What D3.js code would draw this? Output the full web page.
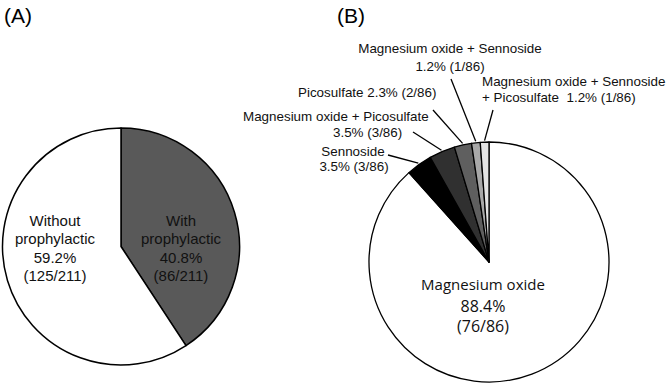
<!DOCTYPE html>
<html lang="en">
<head>
<script type="text/javascript" src="https://d3js.org/d3.v7.min.js"></script>
<style>
    body { margin: 0; background: #fff; }
    svg { display: block; }
</style>
</head>
<body>
<div id="container"></div>
<script>
    // (A) prophylaxis
    const groupsA = ["With prophylactic", "Without prophylactic"],
        countsA = [86, 125],
        colorsA = ["#595959", "#ffffff"];

    // (B) laxative used
    const groupsB = ["Magnesium oxide", "Sennoside", "Magnesium oxide + Picosulfate",
                     "Picosulfate", "Magnesium oxide + Sennoside",
                     "Magnesium oxide + Sennoside + Picosulfate"],
        countsB = [76, 3, 3, 2, 1, 1],
        colorsB = ["#ffffff", "#000000", "#303030", "#5f5f5f", "#a8a8a8", "#e4e4e4"];

    const width = 666, height = 384;
    const font = "Liberation Sans, Arial, sans-serif";

    const svg = d3.select("#container").append("svg")
        .attr("width", width).attr("height", height);

    const pie = d3.pie().sort(null).value(d => d);

    // panel tags
    svg.append("text").attr("x", 4).attr("y", 23).text("(A)")
        .style("font-family", font).style("font-size", "21px");
    svg.append("text").attr("x", 337).attr("y", 23).text("(B)")
        .style("font-family", font).style("font-size", "21px");

    // ---- pie A
    const rA = 118.5;
    const gA = svg.append("g").attr("transform", "translate(121,246.5)");
    const arcA = d3.arc().innerRadius(0).outerRadius(rA);

    gA.selectAll("path")
        .data(pie(countsA))
        .enter().append("path")
        .attr("d", arcA)
        .attr("fill", (d, i) => colorsA[i])
        .attr("stroke", "#000")
        .attr("stroke-width", 1.5)
        .attr("stroke-linejoin", "round");

    const linesA = [
        { x: 60, lines: ["With", "prophylactic", "40.8%", "(86/211)"] },
        { x: -66, lines: ["Without", "prophylactic", "59.2%", "(125/211)"] }
    ];
    linesA.forEach((lab, i) => {
        const t = gA.append("text")
            .attr("text-anchor", "middle")
            .style("font-family", font).style("font-size", "15px")
            .attr("fill", "#111");
        lab.lines.forEach((s, j) => {
            t.append("tspan").attr("x", lab.x).attr("y", -21 + j * 18.6).text(s);
        });
    });

    // ---- pie B
    const rB = 120;
    const cxB = 489, cyB = 262;
    const gB = svg.append("g").attr("transform", "translate(" + cxB + "," + cyB + ")");
    const arcB = d3.arc().innerRadius(0).outerRadius(rB);
    const slicesB = pie(countsB);

    gB.selectAll("path")
        .data(slicesB)
        .enter().append("path")
        .attr("d", arcB)
        .attr("fill", (d, i) => colorsB[i])
        .attr("stroke", "#000")
        .attr("stroke-width", 1.3)
        .attr("stroke-linejoin", "round");

    // inside label for the big slice
    const inner = gB.append("text").attr("text-anchor", "middle")
        .style("font-family", "Open Sans, sans-serif").attr("fill", "#111");
    inner.append("tspan").attr("x", -6).attr("y", 28).style("font-size", "15px").text("Magnesium oxide");
    inner.append("tspan").attr("x", -6).attr("y", 50).style("font-size", "16px").text("88.4%");
    inner.append("tspan").attr("x", -6).attr("y", 70).style("font-size", "16px").text("(76/86)");

    // outside labels for the small slices: text lines and leader line start
    const calloutsB = [
        null,
        { anchor: "middle", rows: [[353, 156, "Sennoside"], [354, 171, "3.5% (3/86)"]], from: [388, 155] },
        { anchor: "start", rows: [[243, 121, "Magnesium oxide + Picosulfate"], [333, 137, "3.5% (3/86)"]], from: [413, 132] },
        { anchor: "start", rows: [[298, 97, "Picosulfate 2.3% (2/86)"]], from: [433, 110] },
        { anchor: "middle", rows: [[450, 53, "Magnesium oxide + Sennoside"], [450, 71, "1.2% (1/86)"]], from: [451, 79] },
        { anchor: "start", rows: [[482, 86, "Magnesium oxide + Sennoside"], [482, 102, "+ Picosulfate  1.2% (1/86)"]], from: [493, 110] }
    ];

    calloutsB.forEach((c, i) => {
        if (!c) return;
        const s = slicesB[i];
        const mid = (s.startAngle + s.endAngle) / 2;
        const end = d3.pointRadial(mid, rB + 1.5);
        svg.append("line")
            .attr("x1", c.from[0]).attr("y1", c.from[1])
            .attr("x2", cxB + end[0]).attr("y2", cyB + end[1])
            .attr("stroke", "#000").attr("stroke-width", 1.3);
        c.rows.forEach(r => {
            svg.append("text")
                .attr("x", r[0]).attr("y", r[1])
                .attr("text-anchor", c.anchor)
                .style("font-family", font).style("font-size", "13.4px")
                .style("white-space", "pre")
                .attr("fill", "#111")
                .text(r[2]);
        });
    });
</script>
</body>
</html>
